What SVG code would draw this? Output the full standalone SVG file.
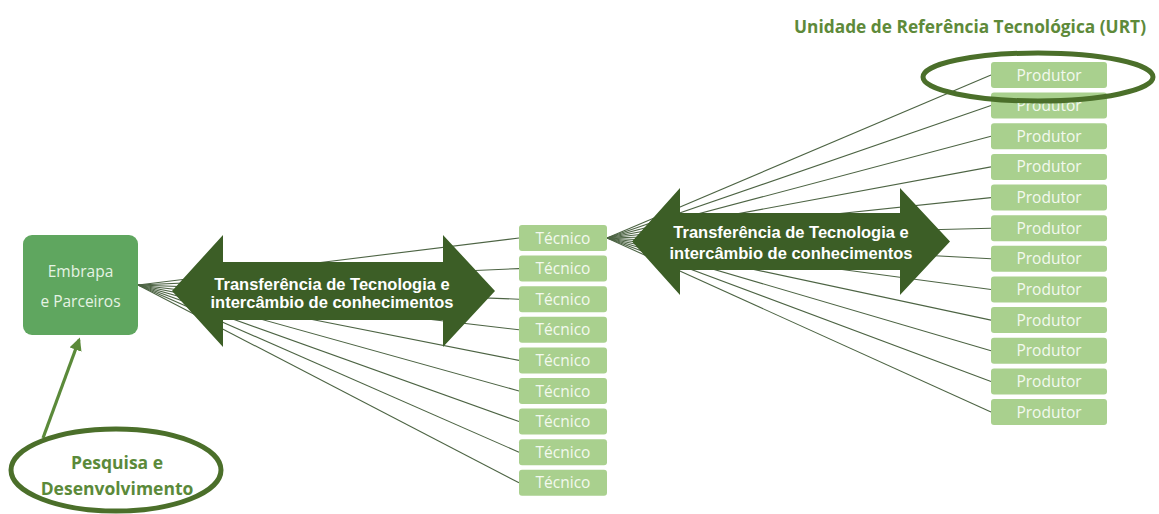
<svg xmlns="http://www.w3.org/2000/svg" width="1159" height="514" viewBox="0 0 1159 514">
<defs>
<style>
.bg{fill:#ffffff}
.fan{stroke:#4d6444;stroke-width:1.1;fill:none}
.big{fill:#3c5e26}
.bigt{font-family:"Liberation Sans",Arial,sans-serif;font-weight:bold;font-size:16.5px;fill:#ffffff;text-anchor:middle}
.lt{fill:#a9d08e}
.ltt{font-family:"Open Sans","Noto Sans",sans-serif;font-size:15.5px;fill:#f3f9ef;text-anchor:middle}
.emb{fill:#5fa65f}
.embt{font-family:"Open Sans","Noto Sans",sans-serif;font-size:15.5px;fill:#e6f3e4;text-anchor:middle}
.ring{fill:none;stroke:#4b6f2a;stroke-width:5}
.gt{font-family:"Open Sans","Noto Sans",sans-serif;font-weight:bold;fill:#5b8a3a;text-anchor:middle}
</style>
<marker id="ah" viewBox="0 0 10 10" refX="8" refY="5" markerWidth="4" markerHeight="4" orient="auto" markerUnits="strokeWidth">
<path d="M0,0 L10,5 L0,10 z" fill="#5b8a3a"/>
</marker>
</defs>
<rect class="bg" x="0" y="0" width="1159" height="514"/>

<text id="urt-title" x="1146" y="33" font-family="'Open Sans','Noto Sans',sans-serif" font-weight="bold" font-size="17" fill="#5e8a3a" text-anchor="end" textLength="352" lengthAdjust="spacingAndGlyphs">Unidade de Referência Tecnológica (URT)</text>

<g id="connectors">
<line class="fan" x1="138" y1="285" x2="519" y2="238"/>
<line class="fan" x1="138" y1="285" x2="519" y2="268.6"/>
<line class="fan" x1="138" y1="285" x2="519" y2="299.2"/>
<line class="fan" x1="138" y1="285" x2="519" y2="329.8"/>
<line class="fan" x1="138" y1="285" x2="519" y2="360.4"/>
<line class="fan" x1="138" y1="285" x2="519" y2="391"/>
<line class="fan" x1="138" y1="285" x2="519" y2="421.6"/>
<line class="fan" x1="138" y1="285" x2="519" y2="452.2"/>
<line class="fan" x1="138" y1="285" x2="519" y2="482.8"/>
<line class="fan" x1="607" y1="238" x2="991" y2="75"/>
<line class="fan" x1="607" y1="238" x2="991" y2="105.6"/>
<line class="fan" x1="607" y1="238" x2="991" y2="136.3"/>
<line class="fan" x1="607" y1="238" x2="991" y2="166.9"/>
<line class="fan" x1="607" y1="238" x2="991" y2="197.6"/>
<line class="fan" x1="607" y1="238" x2="991" y2="228.2"/>
<line class="fan" x1="607" y1="238" x2="991" y2="258.8"/>
<line class="fan" x1="607" y1="238" x2="991" y2="289.5"/>
<line class="fan" x1="607" y1="238" x2="991" y2="320.1"/>
<line class="fan" x1="607" y1="238" x2="991" y2="350.8"/>
<line class="fan" x1="607" y1="238" x2="991" y2="381.4"/>
<line class="fan" x1="607" y1="238" x2="991" y2="412"/>
<line x1="43" y1="438" x2="79" y2="340" stroke="#5b8a3a" stroke-width="3.2" marker-end="url(#ah)"/>
</g>

<g id="arrow-tt1">
<polygon class="big" points="172,291 223,235 223,262 443,262 443,235 495,291 443,347 443,320 223,320 223,347"/>
<text class="bigt" x="332" y="290">Transferência de Tecnologia e</text>
<text class="bigt" x="332" y="308">intercâmbio de conhecimentos</text>
</g>

<g id="arrow-tt2">
<polygon class="big" points="632,241.5 680,188 680,213 900,213 900,188 950,241.5 900,295 900,270 680,270 680,295"/>
<text class="bigt" x="791" y="238">Transferência de Tecnologia e</text>
<text class="bigt" x="791" y="259">intercâmbio de conhecimentos</text>
</g>

<g id="embrapa">
<rect class="emb" x="23" y="235" width="115" height="100" rx="9"/>
<text class="embt" x="80.5" y="277">Embrapa</text>
<text class="embt" x="80.5" y="307">e Parceiros</text>
</g>

<g id="pesquisa">
<ellipse class="ring" cx="116" cy="470" rx="105" ry="41"/>
<text class="gt" x="117" y="469" font-size="17.5">Pesquisa e</text>
<text class="gt" x="117" y="495" font-size="17.5">Desenvolvimento</text>
</g>

<g id="tecnico-1"><rect class="lt" x="519" y="225" width="88" height="26" rx="3"/><text class="ltt" x="563" y="243.5">Técnico</text></g>
<g id="tecnico-2"><rect class="lt" x="519" y="255.6" width="88" height="26" rx="3"/><text class="ltt" x="563" y="274.1">Técnico</text></g>
<g id="tecnico-3"><rect class="lt" x="519" y="286.2" width="88" height="26" rx="3"/><text class="ltt" x="563" y="304.7">Técnico</text></g>
<g id="tecnico-4"><rect class="lt" x="519" y="316.8" width="88" height="26" rx="3"/><text class="ltt" x="563" y="335.3">Técnico</text></g>
<g id="tecnico-5"><rect class="lt" x="519" y="347.4" width="88" height="26" rx="3"/><text class="ltt" x="563" y="365.9">Técnico</text></g>
<g id="tecnico-6"><rect class="lt" x="519" y="378" width="88" height="26" rx="3"/><text class="ltt" x="563" y="396.5">Técnico</text></g>
<g id="tecnico-7"><rect class="lt" x="519" y="408.6" width="88" height="26" rx="3"/><text class="ltt" x="563" y="427.1">Técnico</text></g>
<g id="tecnico-8"><rect class="lt" x="519" y="439.2" width="88" height="26" rx="3"/><text class="ltt" x="563" y="457.7">Técnico</text></g>
<g id="tecnico-9"><rect class="lt" x="519" y="469.8" width="88" height="26" rx="3"/><text class="ltt" x="563" y="488.3">Técnico</text></g>

<g id="produtor-1"><rect class="lt" x="991" y="62" width="116" height="26" rx="3"/><text class="ltt" x="1049" y="80.5">Produtor</text></g>
<g id="produtor-2"><rect class="lt" x="991" y="92.6" width="116" height="26" rx="3"/><text class="ltt" x="1049" y="111.1">Produtor</text></g>
<g id="produtor-3"><rect class="lt" x="991" y="123.3" width="116" height="26" rx="3"/><text class="ltt" x="1049" y="141.8">Produtor</text></g>
<g id="produtor-4"><rect class="lt" x="991" y="153.9" width="116" height="26" rx="3"/><text class="ltt" x="1049" y="172.4">Produtor</text></g>
<g id="produtor-5"><rect class="lt" x="991" y="184.6" width="116" height="26" rx="3"/><text class="ltt" x="1049" y="203.1">Produtor</text></g>
<g id="produtor-6"><rect class="lt" x="991" y="215.2" width="116" height="26" rx="3"/><text class="ltt" x="1049" y="233.7">Produtor</text></g>
<g id="produtor-7"><rect class="lt" x="991" y="245.8" width="116" height="26" rx="3"/><text class="ltt" x="1049" y="264.3">Produtor</text></g>
<g id="produtor-8"><rect class="lt" x="991" y="276.5" width="116" height="26" rx="3"/><text class="ltt" x="1049" y="295">Produtor</text></g>
<g id="produtor-9"><rect class="lt" x="991" y="307.1" width="116" height="26" rx="3"/><text class="ltt" x="1049" y="325.6">Produtor</text></g>
<g id="produtor-10"><rect class="lt" x="991" y="337.8" width="116" height="26" rx="3"/><text class="ltt" x="1049" y="356.3">Produtor</text></g>
<g id="produtor-11"><rect class="lt" x="991" y="368.4" width="116" height="26" rx="3"/><text class="ltt" x="1049" y="386.9">Produtor</text></g>
<g id="produtor-12"><rect class="lt" x="991" y="399" width="116" height="26" rx="3"/><text class="ltt" x="1049" y="417.5">Produtor</text></g>

<g id="urt-ring">
<ellipse class="ring" cx="1038" cy="77" rx="115" ry="24"/>
</g>
</svg>
